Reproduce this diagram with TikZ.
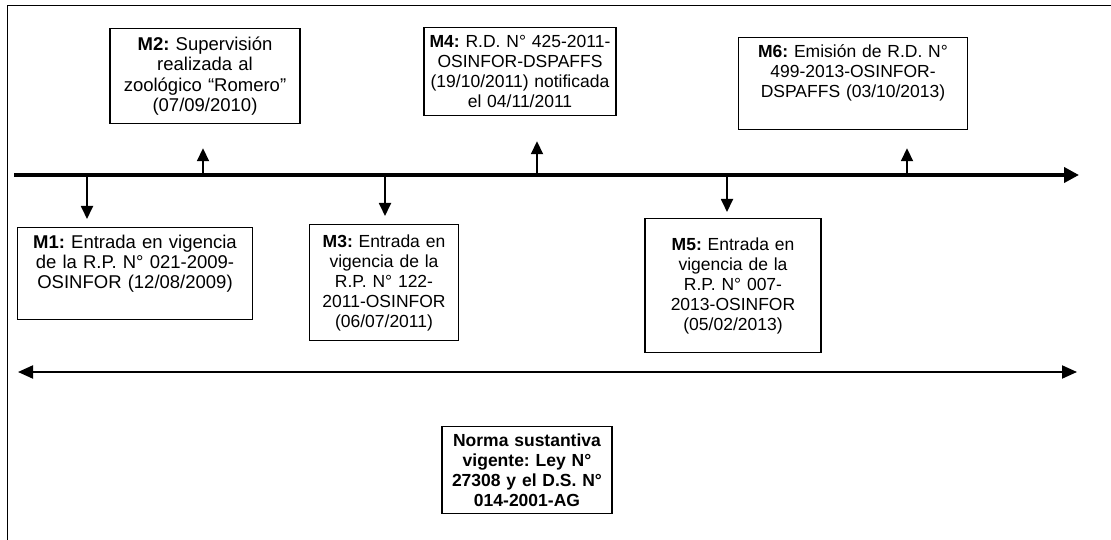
\documentclass[tikz,border=0pt]{standalone}
\usepackage{fontspec}
\setmainfont{Liberation Sans}
\usetikzlibrary{arrows.meta}
\frenchspacing

\tikzset{
  caja/.style={draw=black, line width=1.2pt, anchor=north, align=center,
    inner xsep=4pt, inner ysep=6pt, font=\fontsize{17.5}{20}\selectfont},
  hito/.style={-{Triangle[length=13pt,width=12pt]}, line width=1.8pt},
}

\begin{document}
\begin{tikzpicture}[x=1pt,y=-1pt]
\useasboundingbox (0,0) rectangle (1111,540);
% marco
\draw[line width=1pt] (7,540) -- (7,6) -- (1111,6);

% linea de tiempo
\coordinate (ini) at (14,175);
\coordinate (fin) at (1079,175);
\draw[line width=4pt, -{Triangle[length=15pt,width=15pt]}] (ini) -- (fin);

% hitos arriba
\node[caja, font=\fontsize{18.5}{20.5}\selectfont, inner ysep=5pt, text width=182pt, minimum height=95pt] (m2) at (205,28)
  {\textbf{M2:} Supervisión\\ realizada al\\ zoológico “Romero”\\ (07/09/2010)};
\node[caja, inner ysep=4pt, text width=184pt, minimum height=88pt] (m4) at (520,27)
  {\textbf{M4:} R.D. N° 425-2011-\\ OSINFOR-DSPAFFS\\ (19/10/2011) notificada\\ el 04/11/2011};
\node[caja, text width=221pt, text height=14pt, text depth=66pt] (m6) at (853,37)
  {\textbf{M6:} Emisión de R.D. N°\\ 499-2013-OSINFOR-\\ DSPAFFS (03/10/2013)};

% hitos abajo
\node[caja, font=\fontsize{18.5}{20}\selectfont, text width=227pt, text height=15pt, text depth=65pt] (m1) at (135,227)
  {\textbf{M1:} Entrada en vigencia\\ de la R.P. N° 021-2009-\\ OSINFOR (12/08/2009)};
\node[caja, text width=141pt, minimum height=116pt] (m3) at (384,224)
  {\textbf{M3:} Entrada en\\ vigencia de la\\ R.P. N° 122-\\ 2011-OSINFOR\\ (06/07/2011)};
\node[caja, text width=168pt, minimum height=134pt] (m5) at (733,218)
  {\textbf{M5:} Entrada en\\ vigencia de la\\ R.P. N° 007-\\ 2013-OSINFOR\\ (05/02/2013)};

% flechas de los hitos
\coordinate (t1) at (87,175);
\coordinate (t2) at (203,175);
\coordinate (t3) at (385,175);
\coordinate (t4) at (537,175);
\coordinate (t5) at (727,175);
\coordinate (t6) at (907,175);
\draw[hito, shorten >=8pt] (t1) -- (t1 |- m1.north);
\draw[hito, shorten >=24pt] (t2) -- (t2 |- m2.south);
\draw[hito, shorten >=8pt] (t3) -- (t3 |- m3.north);
\draw[hito, shorten >=25pt] (t4) -- (t4 |- m4.south);
\draw[hito, shorten >=6pt] (t5) -- (t5 |- m5.north);
\draw[hito, shorten >=18pt] (t6) -- (t6 |- m6.south);

% vigencia
\coordinate (izq) at (18,372);
\coordinate (der) at (1077,372);
\draw[line width=2pt, {Triangle[length=15pt,width=13pt]}-{Triangle[length=15pt,width=13pt]}] (izq) -- (der);

\node[caja, font=\bfseries\fontsize{17.5}{20}\selectfont, inner ysep=4pt, text width=162pt, minimum height=87pt] (norma) at (527,426)
  {Norma sustantiva\\ vigente: Ley N°\\ 27308 y el D.S. N°\\ 014-2001-AG};
\end{tikzpicture}
\end{document}
